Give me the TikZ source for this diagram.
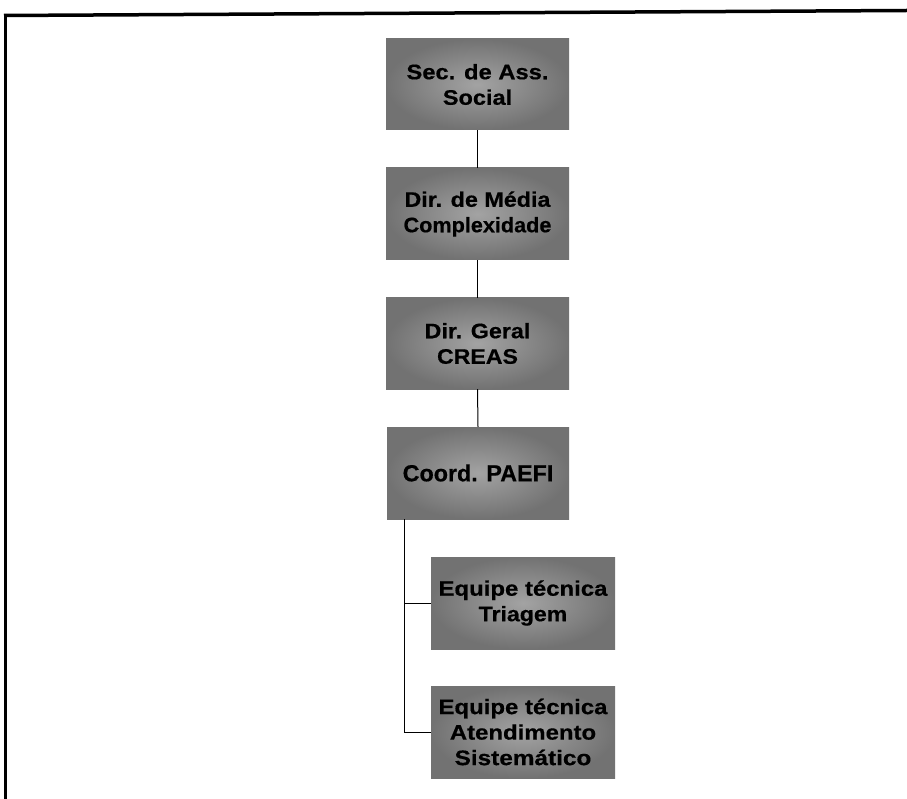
\documentclass[tikz,border=0pt]{standalone}
\usepackage{fontspec}
\setmainfont{Liberation Sans}[BoldFeatures={FakeBold=0.5}]
\usepackage{graphicx}
\definecolor{boxin}{RGB}{163,163,163}
\definecolor{boxout}{RGB}{114,114,114}
\newcommand{\sx}[2]{\scalebox{#1}[1]{#2}}
\tikzset{
  orgbox/.style={rectangle, inner sep=0pt, minimum width=183pt, minimum height=92pt,
    shading=radial, inner color=boxin, outer color=boxout, align=center,
    font=\bfseries\fontsize{21}{25.5}\selectfont, text=black},
  link/.style={line width=1pt, draw=black},
  frameline/.style={line width=3.5pt, draw=black}
}
\begin{document}
\begin{tikzpicture}[x=1pt,y=-1pt]
\useasboundingbox (0,0) rectangle (907,799);
% frame
\coordinate (fl) at (4,15.5);
\coordinate (fr) at (907,10.5);
\coordinate (fb) at (5.5,799);
\coordinate (fc) at (5.5,14);
\draw[frameline] (fl) -- (fr);
\draw[frameline] (fc) -- (fb);
% boxes
\node[orgbox, minimum height=91pt] (b1) at (477.5,84.5) {\sx{1.13}{Sec. de Ass.}\\\sx{1.12}{Social}};
\node[orgbox] (b2) at (477.5,214) {\sx{1.11}{Dir. de Média}\\\sx{1.03}{Complexidade}};
\node[orgbox, minimum height=91pt] (b3) at (477.5,343.5) {\sx{1.11}{Dir. Geral}\\\sx{1.1}{CREAS}};
\node[orgbox, minimum width=182pt, font=\bfseries\fontsize{23.3}{28}\selectfont] (b4) at (478,473) {Coord. PAEFI};
\node[orgbox, minimum width=184pt] (b5) at (523,603) {\sx{1.14}{Equipe técnica}\\\sx{1.1}{Triagem}};
\node[orgbox, minimum width=184pt] (b6) at (523,732) {\sx{1.14}{Equipe técnica}\\\sx{1.14}{Atendimento}\\\sx{1.16}{Sistemático}};
% connectors
\draw[link] (b1.south) -- (b2.north);
\draw[link] (b2.south) -- (b3.north);
\draw[link] (b3.south) -- (b4.north);
\coordinate (bx) at (404,519);
\draw[link] (b4.south -| bx) |- (b5.west);
\draw[link] (b4.south -| bx) |- (b6.west);
\end{tikzpicture}
\end{document}
